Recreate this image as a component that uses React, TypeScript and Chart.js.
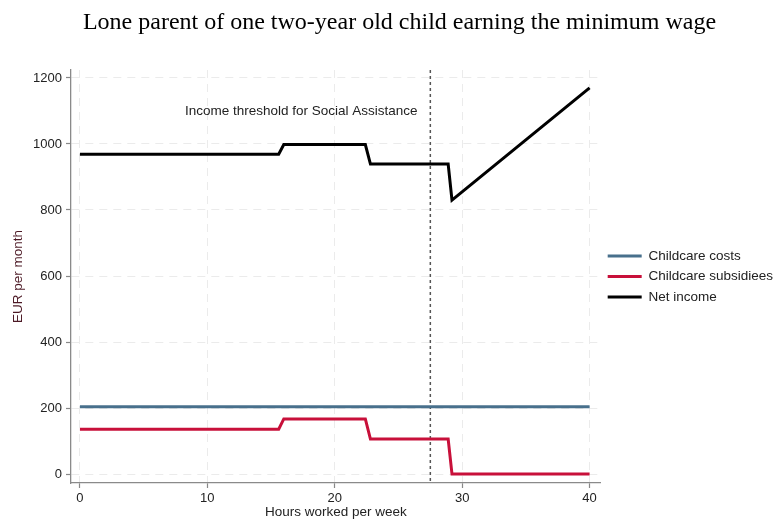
import React, { useEffect, useRef } from "react";
import { Chart, registerables } from "chart.js";

Chart.register(...registerables);

const TITLE = "Lone parent of one two-year old child earning the minimum wage";
const X_TITLE = "Hours worked per week";
const Y_TITLE = "EUR per month";

const seriesLabels = ["Childcare costs", "Childcare subsidiees", "Net income"];
const seriesColors = ["#48708c", "#c8103a", "#000000"];

const hours = [0, 15.6, 16.0, 22.4, 22.8, 28.9, 29.2, 40];
const childcareCosts = [204, 204, 204, 204, 204, 204, 204, 204];
const childcareSubsidies = [136, 136, 167, 167, 106, 106, 0, 0];
const netIncome = [969, 969, 998, 998, 939, 939, 830, 1170];

const xTicks = [0, 10, 20, 30, 40];
const yTicks = [0, 200, 400, 600, 800, 1000, 1200];

const thresholdHours = [27.5];
const thresholdLabel = ["Income threshold for Social Assistance"];
const thresholdLabelPos = [26.5, 1100];

const FONT = "'Liberation Sans', Arial, sans-serif";

const thresholdPlugin = {
  id: "thresholdLine",
  beforeDatasetsDraw(chart: any) {
    const { ctx, chartArea, scales } = chart;
    const px = scales.x.getPixelForValue(thresholdHours[0]);
    ctx.save();
    ctx.strokeStyle = "#555555";
    ctx.lineWidth = 1.5;
    ctx.setLineDash([3, 3]);
    ctx.beginPath();
    ctx.moveTo(px, chartArea.top);
    ctx.lineTo(px, chartArea.bottom);
    ctx.stroke();
    ctx.restore();
  },
  afterDatasetsDraw(chart: any) {
    const { ctx, scales } = chart;
    const lx = scales.x.getPixelForValue(thresholdLabelPos[0]);
    const ly = scales.y.getPixelForValue(thresholdLabelPos[1]);
    ctx.save();
    ctx.fillStyle = "#222222";
    ctx.font = `13.5px ${FONT}`;
    ctx.textAlign = "right";
    ctx.textBaseline = "middle";
    ctx.fillText(thresholdLabel[0], lx, ly);
    ctx.restore();
  },
};

export default function App() {
  const canvasRef = useRef<HTMLCanvasElement | null>(null);

  useEffect(() => {
    if (!canvasRef.current) return;
    const series = [childcareCosts, childcareSubsidies, netIncome];
    const chart = new Chart(canvasRef.current, {
      type: "line",
      data: {
        datasets: series.map((vals, i) => ({
          label: seriesLabels[i],
          data: hours.map((h, j) => ({ x: h, y: vals[j] })),
          borderColor: seriesColors[i],
          backgroundColor: seriesColors[i],
          borderWidth: 3,
          pointRadius: 0,
          tension: 0,
          fill: false,
        })),
      },
      options: {
        animation: false,
        responsive: true,
        maintainAspectRatio: false,
        layout: { padding: { left: 16, right: -7, top: 0, bottom: 0 } },
        plugins: {
          title: {
            display: true,
            text: TITLE,
            color: "#000000",
            font: { family: "'Liberation Serif', 'Times New Roman', serif", size: 24, weight: "normal" },
            padding: { top: 8, bottom: 33.2 },
          },
          legend: {
            position: "right",
            align: "center",
            fullSize: false,
            labels: {
              boxWidth: 34,
              boxHeight: 3,
              padding: 7,
              color: "#222222",
              font: { family: FONT, size: 13.5 },
              generateLabels: (c: any) =>
                (Chart.defaults.plugins.legend.labels as any)
                  .generateLabels(c)
                  .map((l: any) => ({ ...l, lineWidth: 0, fillStyle: l.strokeStyle })),
            },
          },
          tooltip: { enabled: false },
        },
        scales: {
          x: {
            type: "linear",
            min: -0.7,
            max: 40.87,
            afterBuildTicks: (s: any) => {
              s.ticks = xTicks.map((v) => ({ value: v }));
            },
            afterFit: (s: any) => {
              s.height = 37;
            },
            grid: {
              color: "#ebebeb",
              lineWidth: 1,
              drawTicks: true,
              tickLength: 5,
              tickColor: "#888888",
              tickWidth: 1.2,
              tickBorderDash: [],
            },
            border: { display: true, color: "#8a8a8a", width: 1.3, dash: [8, 6] },
            ticks: {
              color: "#222222",
              font: { family: FONT, size: 13 },
              padding: 3,
              maxRotation: 0,
              callback: (v: any) => String(v),
            },
            title: {
              display: true,
              text: X_TITLE,
              color: "#222222",
              font: { family: FONT, size: 13.5 },
              padding: { top: 0, bottom: 0 },
            },
          },
          y: {
            type: "linear",
            min: -27,
            max: 1224,
            afterBuildTicks: (s: any) => {
              s.ticks = yTicks.map((v) => ({ value: v }));
            },
            afterFit: (s: any) => {
              s.width = 55;
            },
            grid: {
              color: "#ebebeb",
              lineWidth: 1,
              drawTicks: true,
              tickLength: 5,
              tickColor: "#888888",
              tickWidth: 1.2,
              tickBorderDash: [],
            },
            border: { display: true, color: "#8a8a8a", width: 1.3, dash: [8, 6] },
            ticks: {
              color: "#222222",
              font: { family: FONT, size: 13 },
              padding: 4,
              callback: (v: any) => String(v),
            },
            title: {
              display: true,
              text: Y_TITLE,
              color: "#4d1a26",
              font: { family: FONT, size: 13.5 },
              padding: { top: -6.1, bottom: 0 },
            },
          },
        },
      },
      plugins: [thresholdPlugin],
    } as any);
    return () => chart.destroy();
  }, []);

  return (
    <div style={{ position: "fixed", left: 0, top: 0, width: 776, height: 520, background: "#ffffff" }}>
      <canvas ref={canvasRef} />
    </div>
  );
}
